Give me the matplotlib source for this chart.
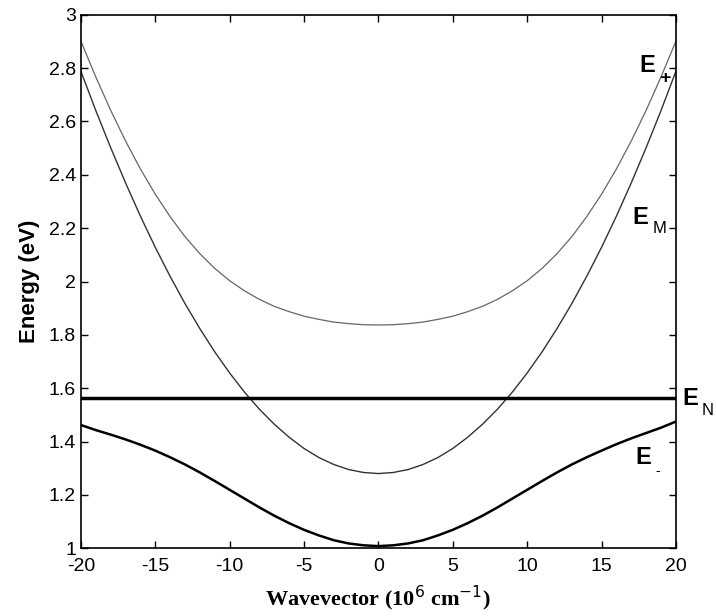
import numpy as np
import matplotlib
matplotlib.use('Agg')
import matplotlib.pyplot as plt

# wavevector (10^6 cm^-1), one point per unit
k = list(range(-20, 21))

# energies (eV), right half k = 0..20
e_plus_r = [1.837, 1.838, 1.842, 1.848, 1.858, 1.870, 1.887, 1.907, 1.933, 1.965, 2.003,
            2.049, 2.104, 2.168, 2.243, 2.327, 2.422, 2.527, 2.642, 2.767, 2.901]
e_m_r = [1.280, 1.284, 1.295, 1.314, 1.340, 1.374, 1.416, 1.465, 1.521, 1.585, 1.657,
         1.736, 1.823, 1.917, 2.019, 2.128, 2.245, 2.370, 2.502, 2.641, 2.788]
e_minus_r = [1.008, 1.011, 1.018, 1.030, 1.048, 1.069, 1.094, 1.122, 1.153, 1.186, 1.219,
             1.252, 1.284, 1.314, 1.341, 1.366, 1.390, 1.412, 1.432, 1.452, 1.475]
e_minus_l = [1.008, 1.011, 1.018, 1.030, 1.048, 1.069, 1.094, 1.122, 1.153, 1.186, 1.219,
             1.252, 1.284, 1.314, 1.341, 1.366, 1.388, 1.408, 1.426, 1.443, 1.462]
e_n = 1.565

e_plus = e_plus_r[:0:-1] + e_plus_r
e_m = e_m_r[:0:-1] + e_m_r
e_minus = e_minus_l[:0:-1] + e_minus_r

xticks = [-20, -15, -10, -5, 0, 5, 10, 15, 20]
yticks = [1, 1.2, 1.4, 1.6, 1.8, 2, 2.2, 2.4, 2.6, 2.8, 3]

plt.rcParams['font.family'] = ['Liberation Sans', 'DejaVu Sans']
plt.rcParams['axes.unicode_minus'] = False

fig = plt.figure(figsize=(7.16, 6.16), dpi=100)
ax = fig.add_axes([0.113, 0.110, 0.831, 0.866])

ax.plot(k, e_plus, color='#666666', linewidth=0.9)
ax.plot(k, e_m, color='#333333', linewidth=1.0)
ax.plot(k, e_minus, color='black', linewidth=1.8)
ax.axhline(e_n, color='black', linewidth=2.5)

ax.set_xlim(-20, 20)
ax.set_ylim(1, 3)
ax.set_xticks(xticks)
ax.set_yticks(yticks)
ax.set_yticklabels([f'{v:g}' for v in yticks])
ax.tick_params(direction='in', top=True, right=True, labelsize=14, length=5, width=1)
ax.tick_params(axis='x', pad=7)
for s in ax.spines.values():
    s.set_linewidth(1.2)

ax.set_ylabel('Energy (eV)', fontsize=16, fontweight='bold', labelpad=6)
ax.set_xlabel(r'Wavevector (10$^{6}$ cm$^{-1}$)', fontsize=16, fontweight='bold',
              family=['Liberation Serif', 'DejaVu Serif'], labelpad=6)

lab = dict(fontsize=17, fontweight='bold', va='center')
ax.text(17.55, 2.81, 'E', **lab)
ax.text(18.85, 2.76, '+', fontsize=14, fontweight='bold', va='center')
ax.text(17.1, 2.24, 'E', **lab)
ax.text(18.45, 2.20, 'M', fontsize=12, va='center')
ax.text(20.45, 1.563, 'E', clip_on=False, **lab)
ax.text(21.75, 1.515, 'N', fontsize=12, va='center', clip_on=False)
ax.text(17.3, 1.34, 'E', **lab)
ax.text(18.6, 1.29, '-', fontsize=10, va='center')

fig.savefig('out.png', dpi=100)
